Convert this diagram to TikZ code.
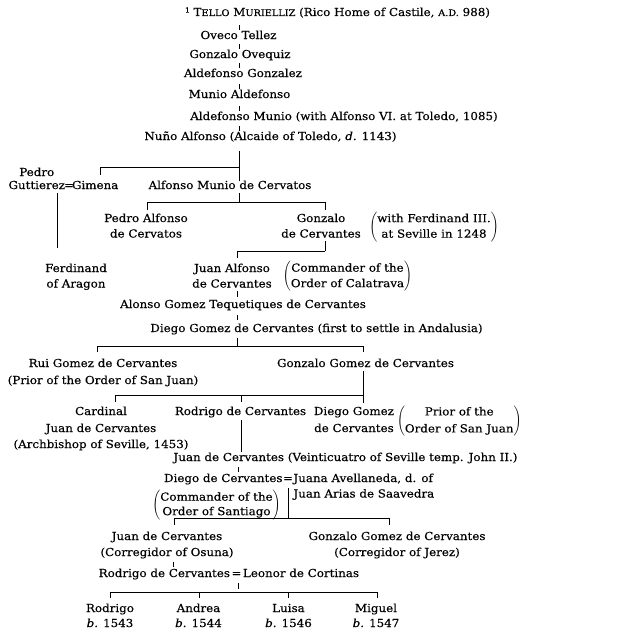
\documentclass[tikz,border=0pt]{standalone}
\usepackage{fontspec}
\setmainfont{DejaVu Serif}[FakeStretch=1.08,FakeBold=0.4]
\newcommand\fs{\fontsize{11}{15.5}\selectfont}
\newcommand\SC[1]{{\fontsize{9}{10}\selectfont #1}}
\newcommand\tc[1]{\begin{tabular}[t]{@{}c@{}}#1\end{tabular}}
\newcommand\pr[1]{$\left(\begin{tabular}{@{}c@{}}#1\end{tabular}\right)$}
\newcommand\prs[1]{{\delimiterfactor=820 $\left(\begin{tabular}{@{}c@{}}#1\end{tabular}\right)$}}
\tikzset{
  x=1pt, y=-1pt,
  every node/.style={inner sep=0pt, outer sep=0pt, anchor=base, font=\fs},
  ln/.style={line width=0.9pt, black},
}
\begin{document}
\begin{tikzpicture}
\useasboundingbox (0,0) rectangle (621,629);
% top chain
\node (t0) at (337.5,16) {{\fontsize{7}{8}\selectfont\raisebox{3.5pt}{1}}\ T\SC{ELLO} M\SC{URIELLIZ} (Rico Home of Castile, \SC{A.D.} 988)};
\node (t1) at (238.5,39) {Oveco Tellez};
\node (t2) at (240,58) {Gonzalo Ovequiz};
\node (t3) at (243,77) {Aldefonso Gonzalez};
\node (t4) at (239.5,98) {Munio Aldefonso};
\node (t5) at (344,120) {Aldefonso Munio (with Alfonso VI. at Toledo, 1085)};
\node (t6) at (270.5,140) {Nuño Alfonso (Alcaide of Toledo, \textit{d.} 1143)};
\draw[ln] (239,25)--(239,30) (239,44)--(239,49) (239,63)--(239,68)
  (239,84)--(239,89) (239,106)--(239,111) (239,126)--(239,131);
% Nuno's children
\node[anchor=base east] (pg) at (65,176) {\tc{Pedro\\[-2.5pt]Guttierez}};
\node (eq1) at (69,189) {=};
\node[anchor=base west] (gim) at (72,189) {Gimena};
\node (amc) at (230,189) {Alfonso Munio de Cervatos};
\draw[ln] (239,151)--(239,181) (100,167)--(239,167) (100,167)--(100,175);
% Alfonso Munio's children
\draw[ln] (239,193)--(239,202) (147,202)--(325,202) (147,202)--(147,210) (325,202)--(325,210);
\node (pac) at (146,222) {\tc{Pedro Alfonso\\de Cervatos}};
\node (gdc) at (321,222) {\tc{Gonzalo\\de Cervantes}};
\node (p1) at (434,229.5) {\pr{with Ferdinand III.\\at Seville in 1248}};
\draw[ln] (57,193)--(57,248);
\node (fer) at (76,272) {\tc{Ferdinand\\of Aragon}};
\draw[ln] (325,241)--(325,251) (237,251)--(325,251) (237,251)--(237,258);
\node (jac) at (232,272) {\tc{Juan Alfonso\\de Cervantes}};
\node (p2) at (347.5,279) {\pr{Commander of the\\Order of Calatrava}};
\draw[ln] (237,291)--(237,297);
\node (agt) at (243,308) {Alonso Gomez Tequetiques de Cervantes};
\draw[ln] (237,315)--(237,320);
\node (dgc) at (316.5,332) {Diego Gomez de Cervantes (first to settle in Andalusia)};
\draw[ln] (237,338)--(237,346) (97,346)--(363,346) (97,346)--(97,352) (363,346)--(363,352);
\node (rgc) at (103,367) {\tc{Rui Gomez de Cervantes\\[1.5pt](Prior of the Order of San Juan)}};
\node (ggc) at (365.5,367) {Gonzalo Gomez de Cervantes};
\draw[ln] (363,371)--(363,403) (115,395)--(363,395) (115,395)--(115,402) (241,395)--(241,402);
\node (car) at (101,415) {\tc{Cardinal\\[1.5pt]Juan de Cervantes\\[0.5pt](Archbishop of Seville, 1453)}};
\node (rdc) at (240.5,415) {Rodrigo de Cervantes};
\draw[ln] (241,420)--(241,452);
\node[anchor=base east] (dgo) at (394,415) {\tc{Diego Gomez\\[1.5pt]de Cervantes}};
\node[anchor=base west] (p3) at (397,423.5) {\pr{Prior of the\\[1.5pt]Order of San Juan}};
\node (jdc) at (345.5,461) {Juan de Cervantes (Veinticuatro of Seville temp. John II.)};
\draw[ln] (238,467)--(238,472);
\node[anchor=base east] (ddc) at (282.5,482) {Diego de Cervantes};
\node (eq2) at (288,482) {=};
\node[anchor=base west] (jav) at (293.5,482) {\begin{tabular}[t]{@{}l@{}}Juana Avellaneda, d. of\\Juan Arias de Saavedra\end{tabular}};
\node (p4) at (216.5,507.5) {\prs{Commander of the\\[-1pt]Order of Santiago}};
\draw[ln] (288,488)--(288,518) (174,518)--(389,518) (174,518)--(174,525) (389,518)--(389,525);
\node (jco) at (167,540) {\tc{Juan de Cervantes\\[0.5pt](Corregidor of Osuna)}};
\node (gcj) at (397,540) {\tc{Gonzalo Gomez de Cervantes\\[0.5pt](Corregidor of Jerez)}};
\draw[ln] (173,562)--(173,567);
\node[anchor=base east] (rod) at (230,577) {Rodrigo de Cervantes};
\node (eq3) at (236.5,577) {=};
\node[anchor=base west] (leo) at (243,577) {Leonor de Cortinas};
\draw[ln] (238,583)--(238,589) (110,592)--(378,592);
\draw[ln] (110,592)--(110,598) (199,592)--(199,598) (288,592)--(288,598) (377,592)--(377,598);
\node (c1) at (110,612) {\tc{Rodrigo\\[-0.5pt]\textit{b.} 1543}};
\node (c2) at (198.5,612) {\tc{Andrea\\[-0.5pt]\textit{b.} 1544}};
\node (c3) at (288.5,612) {\tc{Luisa\\[-0.5pt]\textit{b.} 1546}};
\node (c4) at (376,612) {\tc{Miguel\\[-0.5pt]\textit{b.} 1547}};
\end{tikzpicture}
\end{document}
